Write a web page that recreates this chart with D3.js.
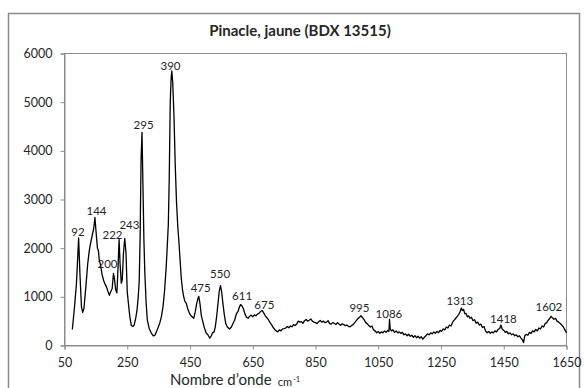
<!DOCTYPE html>
<html>
<head>
<meta charset="utf-8">
<script src="https://cdn.jsdelivr.net/npm/d3@7"></script>
<style>
  html, body { margin: 0; padding: 0; background: #fff; }
  svg { display: block; }
  text { font-family: Lato, "Open Sans", sans-serif; fill: #262626; }
</style>
</head>
<body>
<svg id="chart" width="584" height="388"></svg>
<script>
// ---- data ----
const title = "Pinacle, jaune (BDX 13515)";
const xTicks = [50, 250, 450, 650, 850, 1050, 1250, 1450, 1650];
const yTicks = [0, 1000, 2000, 3000, 4000, 5000, 6000];

const wavenumbers = [
  75, 82, 88, 92, 95, 99, 104, 108, 112, 118, 124, 129, 133, 138, 143, 147, 151, 155, 158, 161,
  165, 170, 175, 180, 184, 188, 193, 197, 202, 206, 209, 213, 217, 220, 224, 227, 231, 234, 238, 242,
  246, 250, 254, 258, 263, 268, 272, 277, 281, 285, 288, 291, 294, 297, 300, 303, 306, 310, 314, 320,
  327, 333, 338, 343, 349, 354, 359, 364, 369, 374, 378, 381, 384, 387, 390, 392, 395, 399, 403, 407,
  411, 415, 419, 422, 426, 430, 434, 438, 443, 449, 455, 462, 467, 471, 475, 478, 482, 486, 490, 495,
  502, 507, 513, 518, 522, 527, 531, 535, 539, 543, 547, 551, 555, 559, 564, 569, 576, 582, 587, 592,
  598, 603, 607, 611, 615, 620, 625, 630, 635,
  640, 645, 650, 655, 660, 665, 670, 675, 680, 685, 690, 695, 700, 705, 710, 715, 720, 725, 730, 735,
  740, 745, 750, 755, 760, 765, 770, 775, 780, 785, 790, 795, 800, 805, 810, 815, 820, 825, 830, 835,
  840, 845, 850, 855, 860, 865, 870, 875, 880, 885, 890, 895, 900, 905, 910, 915, 920, 925, 930, 935,
  940, 945, 950, 955, 960, 965, 970, 975, 980, 985, 990, 995, 1000, 1005, 1010, 1015, 1020, 1025, 1030, 1035,
  1040, 1045, 1050, 1055, 1060, 1065, 1070, 1075, 1080, 1084, 1086, 1088, 1092, 1097, 1102, 1107, 1112, 1117, 1122, 1127,
  1132, 1137, 1142, 1147, 1152, 1157, 1162, 1167, 1172, 1177, 1182, 1187, 1192, 1197, 1202, 1207, 1212, 1217, 1222, 1227,
  1232, 1237, 1242, 1247, 1252, 1257, 1262, 1267, 1272, 1277, 1282, 1287, 1292, 1297, 1302, 1307, 1311, 1315, 1318, 1322,
  1326, 1330, 1334, 1338, 1342, 1347, 1352, 1357, 1362, 1367, 1372, 1377, 1382, 1387, 1392, 1397, 1402, 1407, 1412, 1417,
  1422, 1427, 1432, 1437, 1441, 1445, 1450, 1455, 1460, 1465, 1470, 1475, 1480, 1485, 1490, 1495, 1500, 1505, 1510, 1513,
  1517, 1522, 1527, 1532, 1537, 1542, 1547, 1552, 1557, 1562, 1567, 1572, 1577, 1582, 1587, 1592, 1597, 1601, 1605, 1610,
  1615, 1620, 1625, 1630, 1635, 1640, 1645, 1650
];
const intensities = [
  330, 800, 1270, 1800, 2210, 1500, 800, 680, 760, 1200, 1680, 1950, 2100, 2250, 2400, 2630, 2300, 2000, 1950, 1750,
  1650, 1450, 1330, 1250, 1200, 1120, 1030, 1100, 1170, 1480, 1380, 1150, 1080, 1500, 2180, 1700, 1280, 1350, 1900, 2200,
  1900, 1100, 850, 600, 410, 390, 420, 560, 720, 1000, 1300, 2200, 3800, 4380, 3300, 2200, 1500, 900, 520, 350,
  250, 200, 210, 280, 380, 470, 600, 800, 1130, 1600, 2100, 2500, 3500, 5000, 5500, 5640, 5400, 4700, 3700, 2950,
  2450, 2100, 1700, 1400, 1150, 1000, 900, 870, 750, 650, 600, 560, 700, 850, 960, 1010, 850, 620, 510, 380,
  250, 220, 150, 200, 260, 280, 400, 600, 850, 1100, 1230, 1100, 860, 650, 450, 380, 340, 380, 450, 520,
  650, 700, 780, 840, 820, 760, 650, 580, 560,
  600, 625, 590, 630, 610, 645, 660, 700, 720, 670, 610, 570, 530, 470, 430, 370, 330, 300, 280, 320,
  300, 340, 345, 360, 390, 365, 400, 385, 430, 410, 440, 500, 480, 490, 455, 510, 535, 500, 520, 545,
  500, 480, 470, 450, 490, 515, 480, 500, 470, 480, 510, 450, 440, 470, 455, 430, 470, 440, 415, 445,
  430, 410, 420, 395, 385, 410, 430, 470, 510, 550, 580, 610, 570, 530, 470, 450, 410, 380, 400, 320,
  300, 260, 290, 250, 280, 260, 300, 270, 310, 290, 540, 340, 300, 320, 270, 300, 260, 280, 250, 270,
  220, 240, 200, 230, 190, 210, 170, 200, 160, 190, 150, 180, 130, 170, 200, 240, 220, 260, 240, 280,
  250, 290, 260, 310, 290, 340, 320, 380, 360, 420, 400, 480, 520, 560, 600, 640, 700, 770, 720, 740,
  650, 660, 590, 610, 560, 580, 510, 530, 460, 480, 420, 440, 370, 390, 300, 260, 290, 250, 280, 260,
  300, 280, 330, 350, 420, 340, 310, 270, 290, 240, 260, 220, 240, 200, 220, 180, 200, 150, 110, 60,
  200, 230, 210, 270, 250, 300, 280, 330, 300, 360, 340, 400, 380, 450, 470, 520, 560, 600, 570, 540,
  560, 500, 480, 450, 420, 380, 320, 260
];

// peak annotations: text, anchor wavenumber, anchor intensity (baseline)
const peakLabels = ["92", "144", "200", "222", "243", "295", "390", "475", "550", "611", "675", "995", "1086", "1313", "1418", "1602"];
const peakLabelX = [93, 152, 187, 203, 257, 302, 388, 484, 546, 616, 687, 990, 1084, 1310, 1449, 1594];
const peakLabelY = [2260, 2690, 1600, 2180, 2385, 4440, 5670, 1090, 1390, 945, 760, 680, 575, 840, 470, 700];

const xTitle = "Nombre d\u2019onde";
const xUnit = "cm";
const xUnitSup = "-1";

// ---- drawing ----
(function () {
const svg = d3.select("#chart");
const pL = 64.5, pR = 566.5, pT = 53.5, pB = 345.5;

const x = d3.scaleLinear().domain([50, 1650]).range([pL, pR]);
const y = d3.scaleLinear().domain([0, 6000]).range([pB, pT]);

// chart area border
svg.append("rect")
  .attr("x", 8.5).attr("y", 13.5).attr("width", 571).attr("height", 390)
  .attr("fill", "#fff").attr("stroke", "#8a8a8a").attr("stroke-width", 1.5);

// plot area border (top/right)
svg.append("rect")
  .attr("x", pL).attr("y", pT).attr("width", pR - pL).attr("height", pB - pT)
  .attr("fill", "none").attr("stroke", "#8c8c8c").attr("stroke-width", 1);

// title
svg.append("text")
  .attr("x", 300).attr("y", 36)
  .attr("text-anchor", "middle")
  .style("font-weight", "bold").style("font-size", "15px")
  .text(title);

// y axis
const yAxis = svg.append("g").attr("transform", `translate(${pL},0)`)
  .call(d3.axisLeft(y).tickValues(yTicks).tickSize(4).tickPadding(8).tickFormat(d3.format("d")));
yAxis.select(".domain").attr("stroke", "#8c8c8c");
yAxis.selectAll(".tick line").attr("stroke", "#8c8c8c");
yAxis.selectAll("text").style("font-size", "12.5px").style("font-family", "Lato, sans-serif").attr("fill", "#262626");

// x axis
const xAxis = svg.append("g").attr("transform", `translate(0,${pB})`)
  .call(d3.axisBottom(x).tickValues(xTicks).tickSize(4).tickPadding(9).tickFormat(d3.format("d")));
xAxis.select(".domain").attr("stroke", "#8c8c8c");
xAxis.selectAll(".tick line").attr("stroke", "#8c8c8c");
xAxis.selectAll("text").style("font-size", "12.5px").style("font-family", "Lato, sans-serif").attr("fill", "#262626");

// x axis title
const xt = svg.append("text")
  .attr("x", 170).attr("y", 385)
  .style("font-size", "15px");
xt.append("tspan").text(xTitle);
xt.append("tspan").attr("dx", 6).attr("dy", 1).style("font-size", "11px").text(xUnit);
xt.append("tspan").attr("dx", 1).attr("dy", -4).style("font-size", "7.5px").text(xUnitSup);

// spectrum line
const pts = wavenumbers.map((v, i) => [v, intensities[i]]);
svg.append("path")
  .datum(pts)
  .attr("fill", "none")
  .attr("stroke", "#000")
  .attr("stroke-width", 1.3)
  .attr("stroke-linejoin", "round")
  .attr("d", d3.line().x(d => x(d[0])).y(d => y(d[1])));

// peak labels
svg.append("g").selectAll("text")
  .data(peakLabels)
  .join("text")
  .attr("x", (d, i) => x(peakLabelX[i]))
  .attr("y", (d, i) => y(peakLabelY[i]))
  .attr("text-anchor", "middle")
  .style("font-size", "11.5px")
  .attr("fill", "#333")
  .text(d => d);
})();
</script>
</body>
</html>
